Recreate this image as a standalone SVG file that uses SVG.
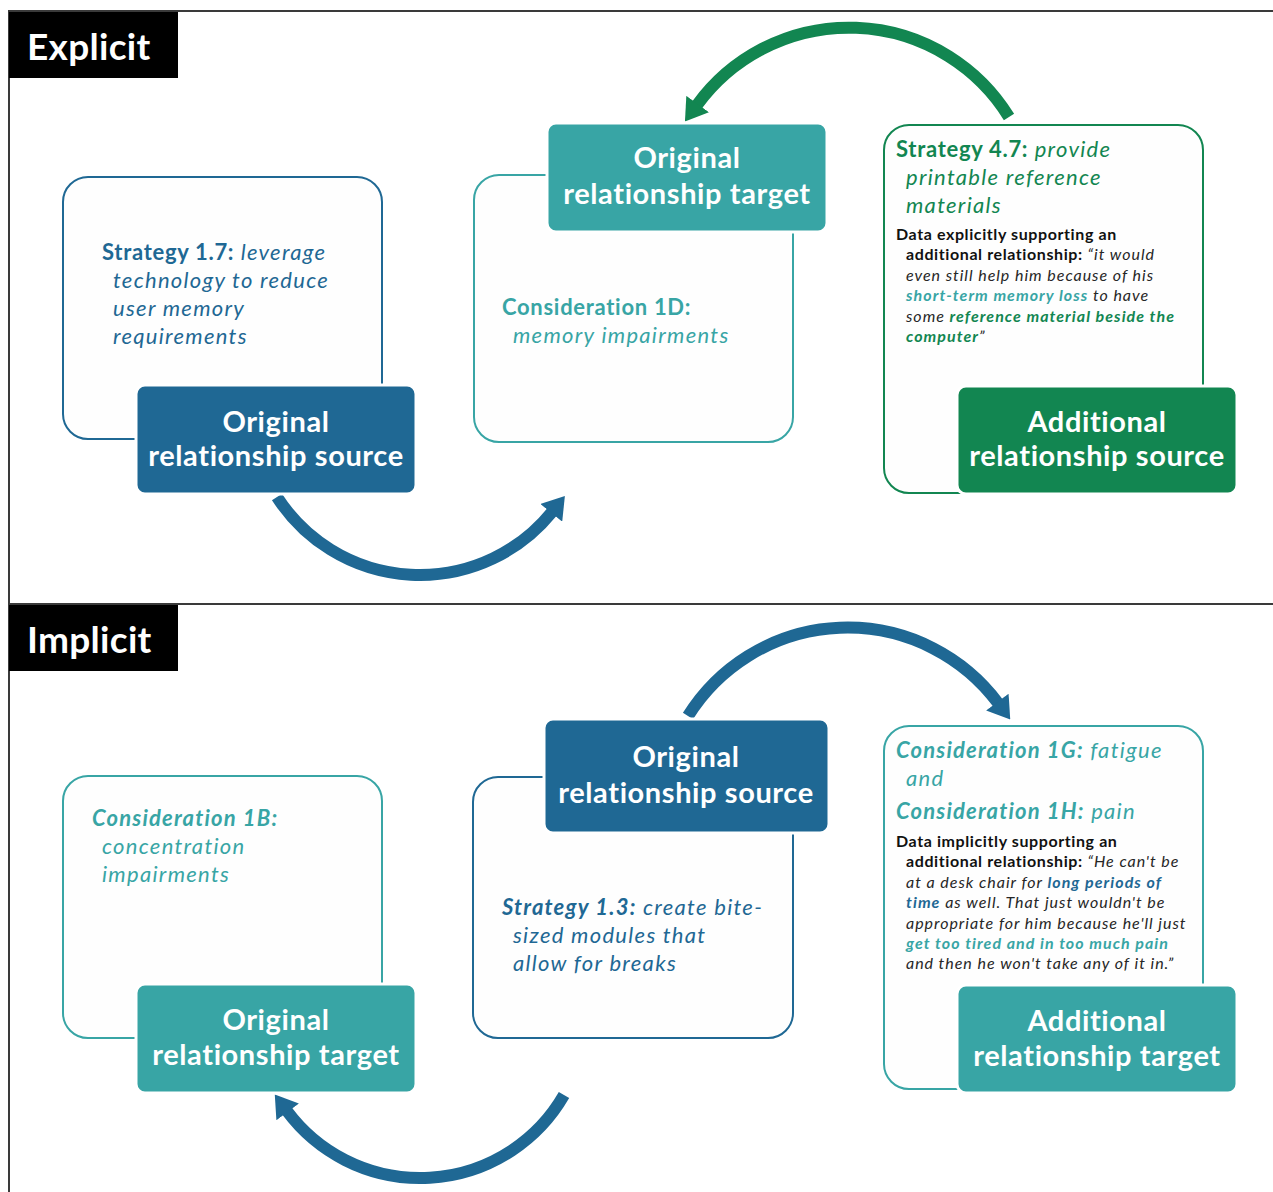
<svg xmlns="http://www.w3.org/2000/svg" width="1273" height="1192" viewBox="0 0 1273 1192">
<style>
text{font-family:Lato,"Liberation Sans",sans-serif}
.frame{stroke:#3a3a3a;stroke-width:2;fill:none}
.title{fill:#fff;font-weight:bold;font-size:37px;letter-spacing:0.3px}
.ob{fill:#fefefe;stroke-width:2}
.fb{stroke:#fff;stroke-width:3}
.hd{fill:#fff;font-weight:bold;font-size:29px;letter-spacing:0.6px;text-anchor:middle}
.body{font-size:22px}
.data{font-size:16px;fill:#262626}
.b{font-weight:bold;letter-spacing:0.7px}
.i{font-style:italic;letter-spacing:1.3px}
.b.i{letter-spacing:1.2px}
.data .b{letter-spacing:0.6px}
.data .i{letter-spacing:0.97px}
.data .b.i{letter-spacing:1.05px}
.blue{fill:#1f6894}.teal{fill:#38a5a5}.green{fill:#128651}.blk{fill:#111}
.arr{fill:none;stroke-width:12}
</style>
<defs>
<marker id="mBlue" markerUnits="userSpaceOnUse" markerWidth="22" markerHeight="28" viewBox="0 0 20 26" refX="1" refY="13" orient="auto"><path d="M0,0 L20,13 L0,26 z" fill="#1f6894"/></marker>
<marker id="mGreen" markerUnits="userSpaceOnUse" markerWidth="22" markerHeight="28" viewBox="0 0 20 26" refX="1" refY="13" orient="auto"><path d="M0,0 L20,13 L0,26 z" fill="#128651"/></marker>
</defs>

<g id="frame">
<line class="frame" x1="8" y1="11" x2="1273" y2="11"/>
<line class="frame" x1="9" y1="10" x2="9" y2="1192"/>
<line class="frame" x1="8" y1="604" x2="1273" y2="604"/>
</g>

<g id="label-explicit">
<rect x="9" y="12" width="169" height="66" fill="#000"/>
<text class="title" x="27" y="60">Explicit</text>
</g>
<g id="label-implicit">
<rect x="9" y="605" width="169" height="66" fill="#000"/>
<text class="title" x="27" y="653">Implicit</text>
</g>

<g id="connectors">
<path class="arr" stroke="#1f6894" d="M 277 497 A 170 170 0 0 0 552 512" marker-end="url(#mBlue)"/>
<path class="arr" stroke="#128651" d="M 1009 117 A 188 188 0 0 0 697 105" marker-end="url(#mGreen)"/>
<path class="arr" stroke="#1f6894" d="M 688 716 A 188 188 0 0 1 998 703" marker-end="url(#mBlue)"/>
<path class="arr" stroke="#1f6894" d="M 564 1095 A 166 166 0 0 1 287 1111" marker-end="url(#mBlue)"/>
</g>

<g id="explicit-strategy-1-7">
<rect class="ob" x="63" y="177" width="319" height="262" rx="25" stroke="#1f6894"/>
<text class="body blue"><tspan x="102" y="260" class="b">Strategy 1.7:</tspan><tspan class="i"> leverage</tspan><tspan x="113" y="288" class="i">technology to reduce</tspan><tspan x="113" y="316" class="i">user memory</tspan><tspan x="113" y="344" class="i">requirements</tspan></text>
</g>
<g id="explicit-original-source">
<rect class="fb" x="136" y="385" width="280" height="109" rx="9" fill="#1f6894"/>
<text class="hd" x="276" y="432">Original</text>
<text class="hd" x="276" y="466">relationship source</text>
</g>

<g id="explicit-consideration-1d">
<rect class="ob" x="474" y="175" width="319" height="267" rx="25" stroke="#38a5a5"/>
<text class="body teal"><tspan x="502" y="315" class="b">Consideration 1D:</tspan><tspan x="513" y="343" class="i">memory impairments</tspan></text>
</g>
<g id="explicit-original-target">
<rect class="fb" x="547" y="123" width="280" height="109" rx="9" fill="#38a5a5"/>
<text class="hd" x="687" y="168">Original</text>
<text class="hd" x="687" y="204">relationship target</text>
</g>

<g id="explicit-strategy-4-7">
<rect class="ob" x="884" y="125" width="319" height="368" rx="25" stroke="#128651"/>
<text class="body green"><tspan x="896" y="157" class="b">Strategy 4.7:</tspan><tspan class="i"> provide</tspan><tspan x="906" y="185" class="i">printable reference</tspan><tspan x="906" y="213" class="i">materials</tspan></text>
<text class="data">
<tspan x="896" y="240" class="b blk">Data explicitly supporting an</tspan>
<tspan x="906" y="260" class="b blk">additional relationship:</tspan><tspan class="i"> “it would</tspan>
<tspan x="906" y="281" class="i">even still help him because of his</tspan>
<tspan x="906" y="301" class="b i teal">short-term memory loss</tspan><tspan class="i"> to have</tspan>
<tspan x="906" y="322" class="i">some </tspan><tspan class="b i green">reference material beside the</tspan>
<tspan x="906" y="342" class="b i green">computer</tspan><tspan class="i">”</tspan>
</text>
</g>
<g id="explicit-additional-source">
<rect class="fb" x="957" y="386" width="280" height="108" rx="9" fill="#128651"/>
<text class="hd" x="1097" y="432">Additional</text>
<text class="hd" x="1097" y="466">relationship source</text>
</g>

<g id="implicit-consideration-1b">
<rect class="ob" x="63" y="776" width="319" height="262" rx="25" stroke="#38a5a5"/>
<text class="body teal"><tspan x="92" y="826" class="b i">Consideration 1B:</tspan><tspan x="102" y="854" class="i">concentration</tspan><tspan x="102" y="882" class="i">impairments</tspan></text>
</g>
<g id="implicit-original-target">
<rect class="fb" x="136" y="984" width="280" height="109" rx="9" fill="#38a5a5"/>
<text class="hd" x="276" y="1030">Original</text>
<text class="hd" x="276" y="1065">relationship target</text>
</g>

<g id="implicit-strategy-1-3">
<rect class="ob" x="473" y="777" width="320" height="261" rx="25" stroke="#1f6894"/>
<text class="body blue"><tspan x="502" y="915" class="b i">Strategy 1.3:</tspan><tspan class="i"> create bite-</tspan><tspan x="513" y="943" class="i">sized modules that</tspan><tspan x="513" y="971" class="i">allow for breaks</tspan></text>
</g>
<g id="implicit-original-source">
<rect class="fb" x="544" y="719" width="285" height="114" rx="9" fill="#1f6894"/>
<text class="hd" x="686" y="767">Original</text>
<text class="hd" x="686" y="803">relationship source</text>
</g>

<g id="implicit-consideration-1g-1h">
<rect class="ob" x="884" y="726" width="319" height="363" rx="25" stroke="#38a5a5"/>
<text class="body teal"><tspan x="896" y="758" class="b i">Consideration 1G:</tspan><tspan class="i"> fatigue</tspan><tspan x="906" y="786" class="i">and</tspan><tspan x="896" y="819" class="b i">Consideration 1H:</tspan><tspan class="i"> pain</tspan></text>
<text class="data">
<tspan x="896" y="847" class="b blk">Data implicitly supporting an</tspan>
<tspan x="906" y="867" class="b blk">additional relationship:</tspan><tspan class="i"> “He can't be</tspan>
<tspan x="906" y="888" class="i">at a desk chair for </tspan><tspan class="b i blue">long periods of</tspan>
<tspan x="906" y="908" class="b i blue">time</tspan><tspan class="i"> as well. That just wouldn't be</tspan>
<tspan x="906" y="929" class="i">appropriate for him because he'll just</tspan>
<tspan x="906" y="949" class="b i teal">get too tired and in too much pain</tspan>
<tspan x="906" y="969" class="i">and then he won't take any of it in.”</tspan>
</text>
</g>
<g id="implicit-additional-target">
<rect class="fb" x="957" y="985" width="280" height="108" rx="9" fill="#38a5a5"/>
<text class="hd" x="1097" y="1031">Additional</text>
<text class="hd" x="1097" y="1066">relationship target</text>
</g>
</svg>
